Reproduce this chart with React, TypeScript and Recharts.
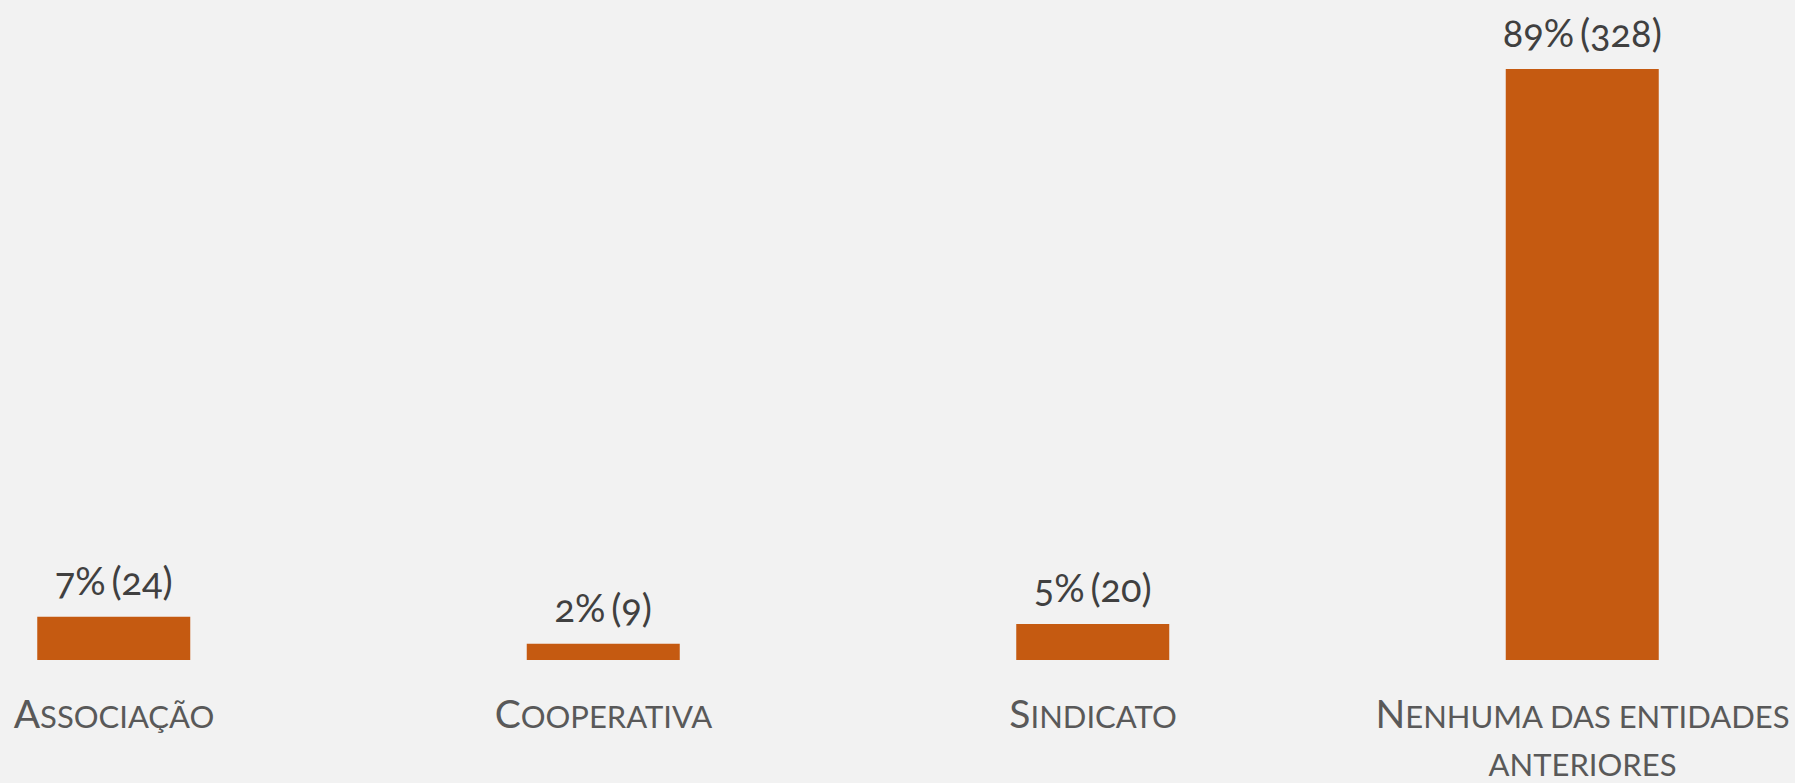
import React from 'react';
import { BarChart, Bar, XAxis, YAxis, LabelList } from 'recharts';

const categories: string[] = ['Associação', 'Cooperativa', 'Sindicato', 'Nenhuma das entidades anteriores'];
const categoryLines: string[][] = [['Associação'], ['Cooperativa'], ['Sindicato'], ['Nenhuma das entidades', 'anteriores']];
const counts: number[] = [24, 9, 20, 328];
const percents: number[] = [7, 2, 5, 89];
const positions: number[] = [0, 1, 2, 3];

const data = categories.map((c, i) => ({
  x: positions[i],
  name: c,
  count: counts[i],
  label: `${percents[i]}% (${counts[i]})`,
}));

const W = 1795;
const H = 783;
const BAR_COLOR = '#c55a11';
const BG = '#f2f2f2';

const CategoryTick = (props: any) => {
  const { x, y, payload } = props;
  const idx = positions.indexOf(payload.value);
  const lines = categoryLines[idx] || [];
  return (
    <g>
      {lines.map((line, li) => {
        const first = li === 0 ? line.charAt(0) : '';
        const rest = li === 0 ? line.slice(1) : line;
        return (
          <text
            key={li}
            x={x}
            y={y + 68 + li * 48}
            textAnchor="middle"
            fill="#595959"
            fontFamily="Lato, 'Open Sans', sans-serif"
          >
            {first && <tspan fontSize={39}>{first.toUpperCase()}</tspan>}
            <tspan fontSize={31}>{rest.toUpperCase()}</tspan>
          </text>
        );
      })}
    </g>
  );
};

const ValueLabel = (props: any) => {
  const { x, y, width, value } = props;
  return (
    <text
      x={x + width / 2}
      y={y - 22}
      textAnchor="middle"
      fill="#404040"
      fontSize={38}
      fontWeight={400}
      fontFamily="Lato, 'Noto Sans', sans-serif"
      style={{ fontVariantNumeric: 'oldstyle-nums', wordSpacing: '-4px' }}
    >
      {value}
    </text>
  );
};

export default function App() {
  const unit = 489.5;
  const x0 = 114;
  const domainX: [number, number] = [-x0 / unit, (W - x0) / unit];
  return (
    <div style={{ position: 'absolute', left: 0, top: 0, width: W, height: H, background: BG }}>
      <BarChart width={W} height={H} data={data} margin={{ top: 29.37, right: 0, bottom: 0, left: 0 }}>
        <XAxis
          type="number"
          dataKey="x"
          domain={domainX}
          allowDataOverflow
          ticks={positions}
          interval={0}
          axisLine={false}
          tickLine={false}
          tickSize={0}
          tickMargin={0}
          height={123}
          tick={<CategoryTick />}
        />
        <YAxis hide domain={[0, 350]} allowDataOverflow />
        <Bar dataKey="count" fill={BAR_COLOR} barSize={153} isAnimationActive={false}>
          <LabelList dataKey="label" content={<ValueLabel />} />
        </Bar>
      </BarChart>
    </div>
  );
}
